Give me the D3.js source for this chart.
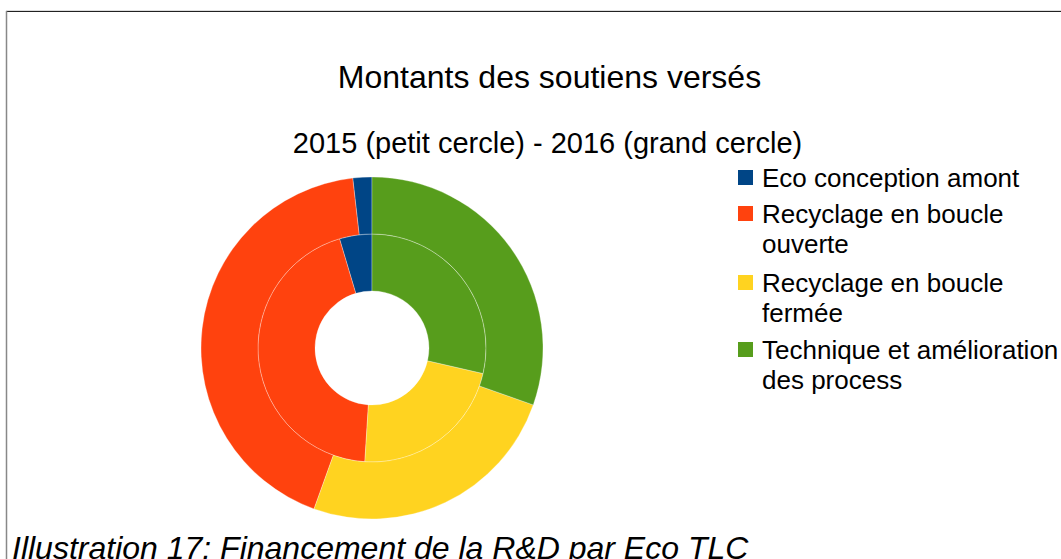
<!DOCTYPE html>
<html>
<head>
<meta charset="utf-8">
<style>
    body { margin: 0; background: #fff; }
    svg { display: block; font-family: "Liberation Sans", Arial, sans-serif; }
</style>
</head>
<body></body>

<script type='text/javascript' src='https://d3js.org/d3.v7.min.js'></script>
<script>
    var width = 1061, height = 559;

    // data (share of the total, in %)
    var categories = ["Eco conception amont", "Recyclage en boucle ouverte", "Recyclage en boucle fermée", "Technique et amélioration des process"];
    var legendLines = [["Eco conception amont"], ["Recyclage en boucle", "ouverte"], ["Recyclage en boucle", "fermée"], ["Technique et amélioration", "des process"]];
    var values2015 = [4.6, 44.4, 22.4, 28.6];
    var values2016 = [1.8, 42.7, 25.1, 30.4];
    var colors = ["#004586", "#ff420e", "#ffd320", "#579d1c"];

    var svg = d3.select('body').append('svg').attr('width', width).attr('height', height);

    // frame of the document page
    svg.append('line').attr('x1', 6).attr('x2', width).attr('y1', 10.5).attr('y2', 10.5)
        .attr('stroke', '#ddd');
    svg.append('line').attr('x1', 6).attr('x2', width).attr('y1', 11.5).attr('y2', 11.5)
        .attr('stroke', '#222');
    svg.append('line').attr('x1', 6.5).attr('x2', 6.5).attr('y1', 11).attr('y2', height)
        .attr('stroke', '#888').attr('stroke-width', 1.5);

    // titles
    svg.append('text').attr('x', 549.5).attr('y', 88).attr('text-anchor', 'middle')
        .style('font-size', '32px').text('Montants des soutiens versés');
    svg.append('text').attr('x', 547.5).attr('y', 153).attr('text-anchor', 'middle')
        .style('font-size', '29px').text('2015 (petit cercle) - 2016 (grand cercle)');

    // pie goes counter-clockwise from 12 o'clock
    var pie = d3.pie().sort(null).startAngle(0).endAngle(-2 * Math.PI);
    var color = d3.scaleOrdinal().domain(categories).range(colors);

    var cx = 372, cy = 348;
    var rings = [
        { values: values2015, inner: 57, outer: 114 },
        { values: values2016, inner: 114, outer: 171 }
    ];

    var chart = svg.append('g').attr('transform', 'translate(' + cx + ',' + cy + ')');

    rings.forEach(function (ring) {
        var arc = d3.arc().innerRadius(ring.inner).outerRadius(ring.outer);
        chart.append('g')
            .selectAll('path')
            .data(pie(ring.values))
            .join('path')
            .attr('d', arc)
            .attr('fill', function (d, i) { return color(categories[i]); })
            .attr('stroke', '#fff')
            .attr('stroke-width', 0.3);
    });

    // legend
    var legendY = [178, 214, 283, 350];
    var legend = svg.append('g');
    legendLines.forEach(function (lines, i) {
        var g = legend.append('g').attr('transform', 'translate(738,' + legendY[i] + ')');
        g.append('rect').attr('x', 0).attr('y', -8).attr('width', 15).attr('height', 15)
            .attr('fill', colors[i]);
        lines.forEach(function (t, j) {
            g.append('text').attr('x', 24).attr('y', 9 + j * 30)
                .style('font-size', '26px').text(t);
        });
    });

    // caption under the chart (cut by the bottom edge, as in the page)
    svg.append('text').attr('x', 12).attr('y', 559)
        .style('font-size', '32px').style('font-style', 'italic')
        .text('Illustration 17: Financement de la R&D par Eco TLC');
</script>
</html>
